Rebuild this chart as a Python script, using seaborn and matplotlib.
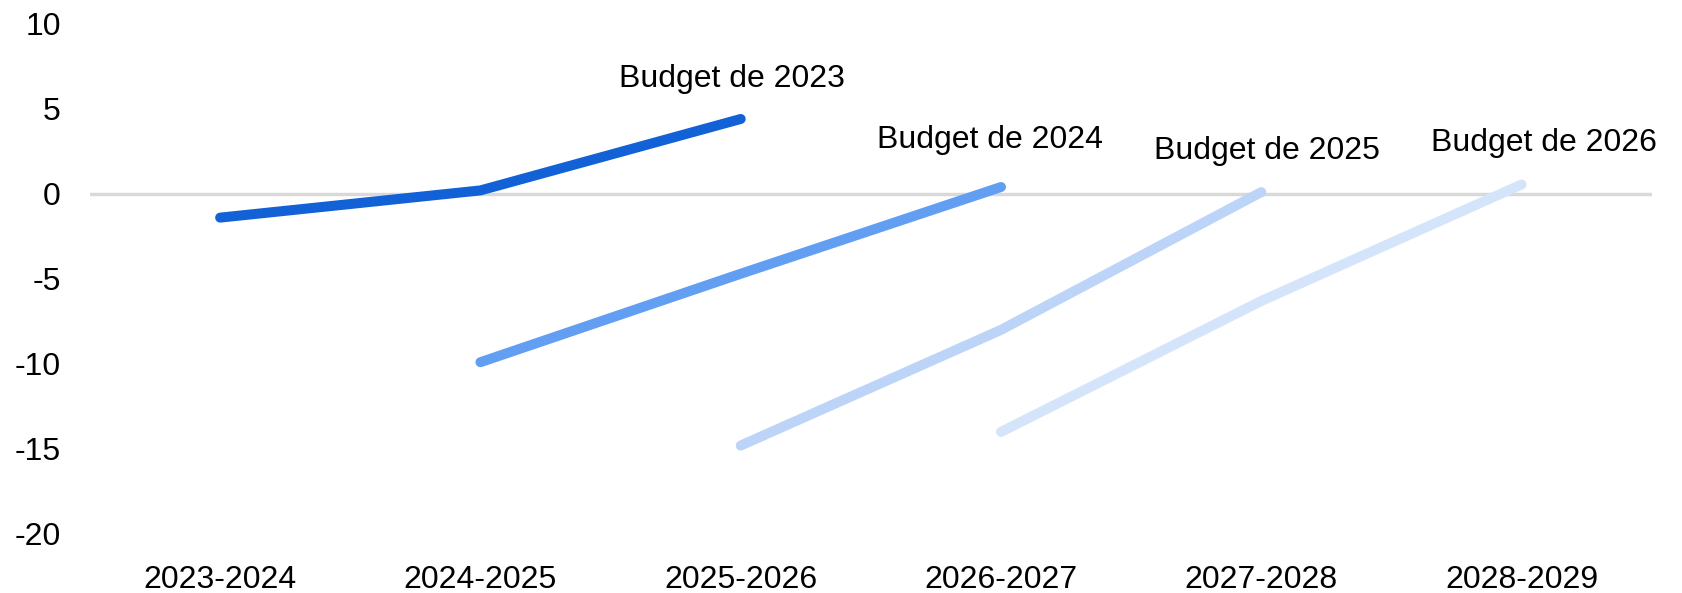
import numpy as np
import pandas as pd
import matplotlib
matplotlib.use("Agg")
import matplotlib.pyplot as plt
import seaborn as sns

periods = ["2023-2024", "2024-2025", "2025-2026", "2026-2027", "2027-2028", "2028-2029"]
budgets = ["Budget de 2023", "Budget de 2024", "Budget de 2025", "Budget de 2026"]
# each budget covers three consecutive periods, starting at an offset
starts = [0, 1, 2, 3]
b2023 = [-1.4, 0.2, 4.4]
b2024 = [-9.9, -4.7, 0.4]
b2025 = [-14.8, -8.0, 0.1]
b2026 = [-14.0, -6.3, 0.55]
colors = ["#1261d6", "#629ef2", "#bcd4f7", "#d4e4fb"]

rows = []
for name, start, vals in zip(budgets, starts, [b2023, b2024, b2025, b2026]):
    for i, v in enumerate(vals):
        rows.append({"Budget": name, "pos": start + i, "Valeur": v})
df = pd.DataFrame(rows)

sns.set_style("white")
plt.rcParams["font.family"] = ["Liberation Sans", "DejaVu Sans"]
plt.rcParams["axes.unicode_minus"] = False
plt.rcParams["text.color"] = "black"
plt.rcParams["xtick.color"] = "black"
plt.rcParams["ytick.color"] = "black"

fig = plt.figure(figsize=(16.82, 5.93), dpi=100)
ax = fig.add_axes([0.0535, 0.0995, 0.9285, 0.8605])

ax.axhline(0, color="#d9d9d9", lw=2.5, zorder=1)
sns.lineplot(data=df, x="pos", y="Valeur", hue="Budget", palette=colors,
             estimator=None, sort=False, lw=7.2, legend=False, ax=ax, zorder=3)
for line in ax.get_lines():
    line.set_solid_capstyle("round")
    line.set_solid_joinstyle("round")

# label above the last point of each budget
label_dx = [-6, -8, 4, 16]
label_dy = [18, 23, 19, 19]
for name, start, vals, dx, dy in zip(budgets, starts, [b2023, b2024, b2025, b2026], label_dx, label_dy):
    ax.annotate(name, (start + len(vals) - 1, vals[-1]), xytext=(dx, dy),
                textcoords="offset points", ha="center", va="bottom", fontsize=23,
                color="black")

ax.set_xlim(-0.5, 5.5)
ax.set_ylim(-20, 10)
ax.set_yticks(np.arange(-20, 11, 5))
ax.set_xticks(range(len(periods)))
ax.set_xticklabels(periods)
ax.tick_params(axis="both", length=0, labelsize=23, labelcolor="black")
ax.tick_params(axis="y", pad=21)
ax.tick_params(axis="x", pad=22)
ax.set_xlabel("")
ax.set_ylabel("")
sns.despine(ax=ax, left=True, bottom=True)

fig.savefig("out.png", dpi=100)
